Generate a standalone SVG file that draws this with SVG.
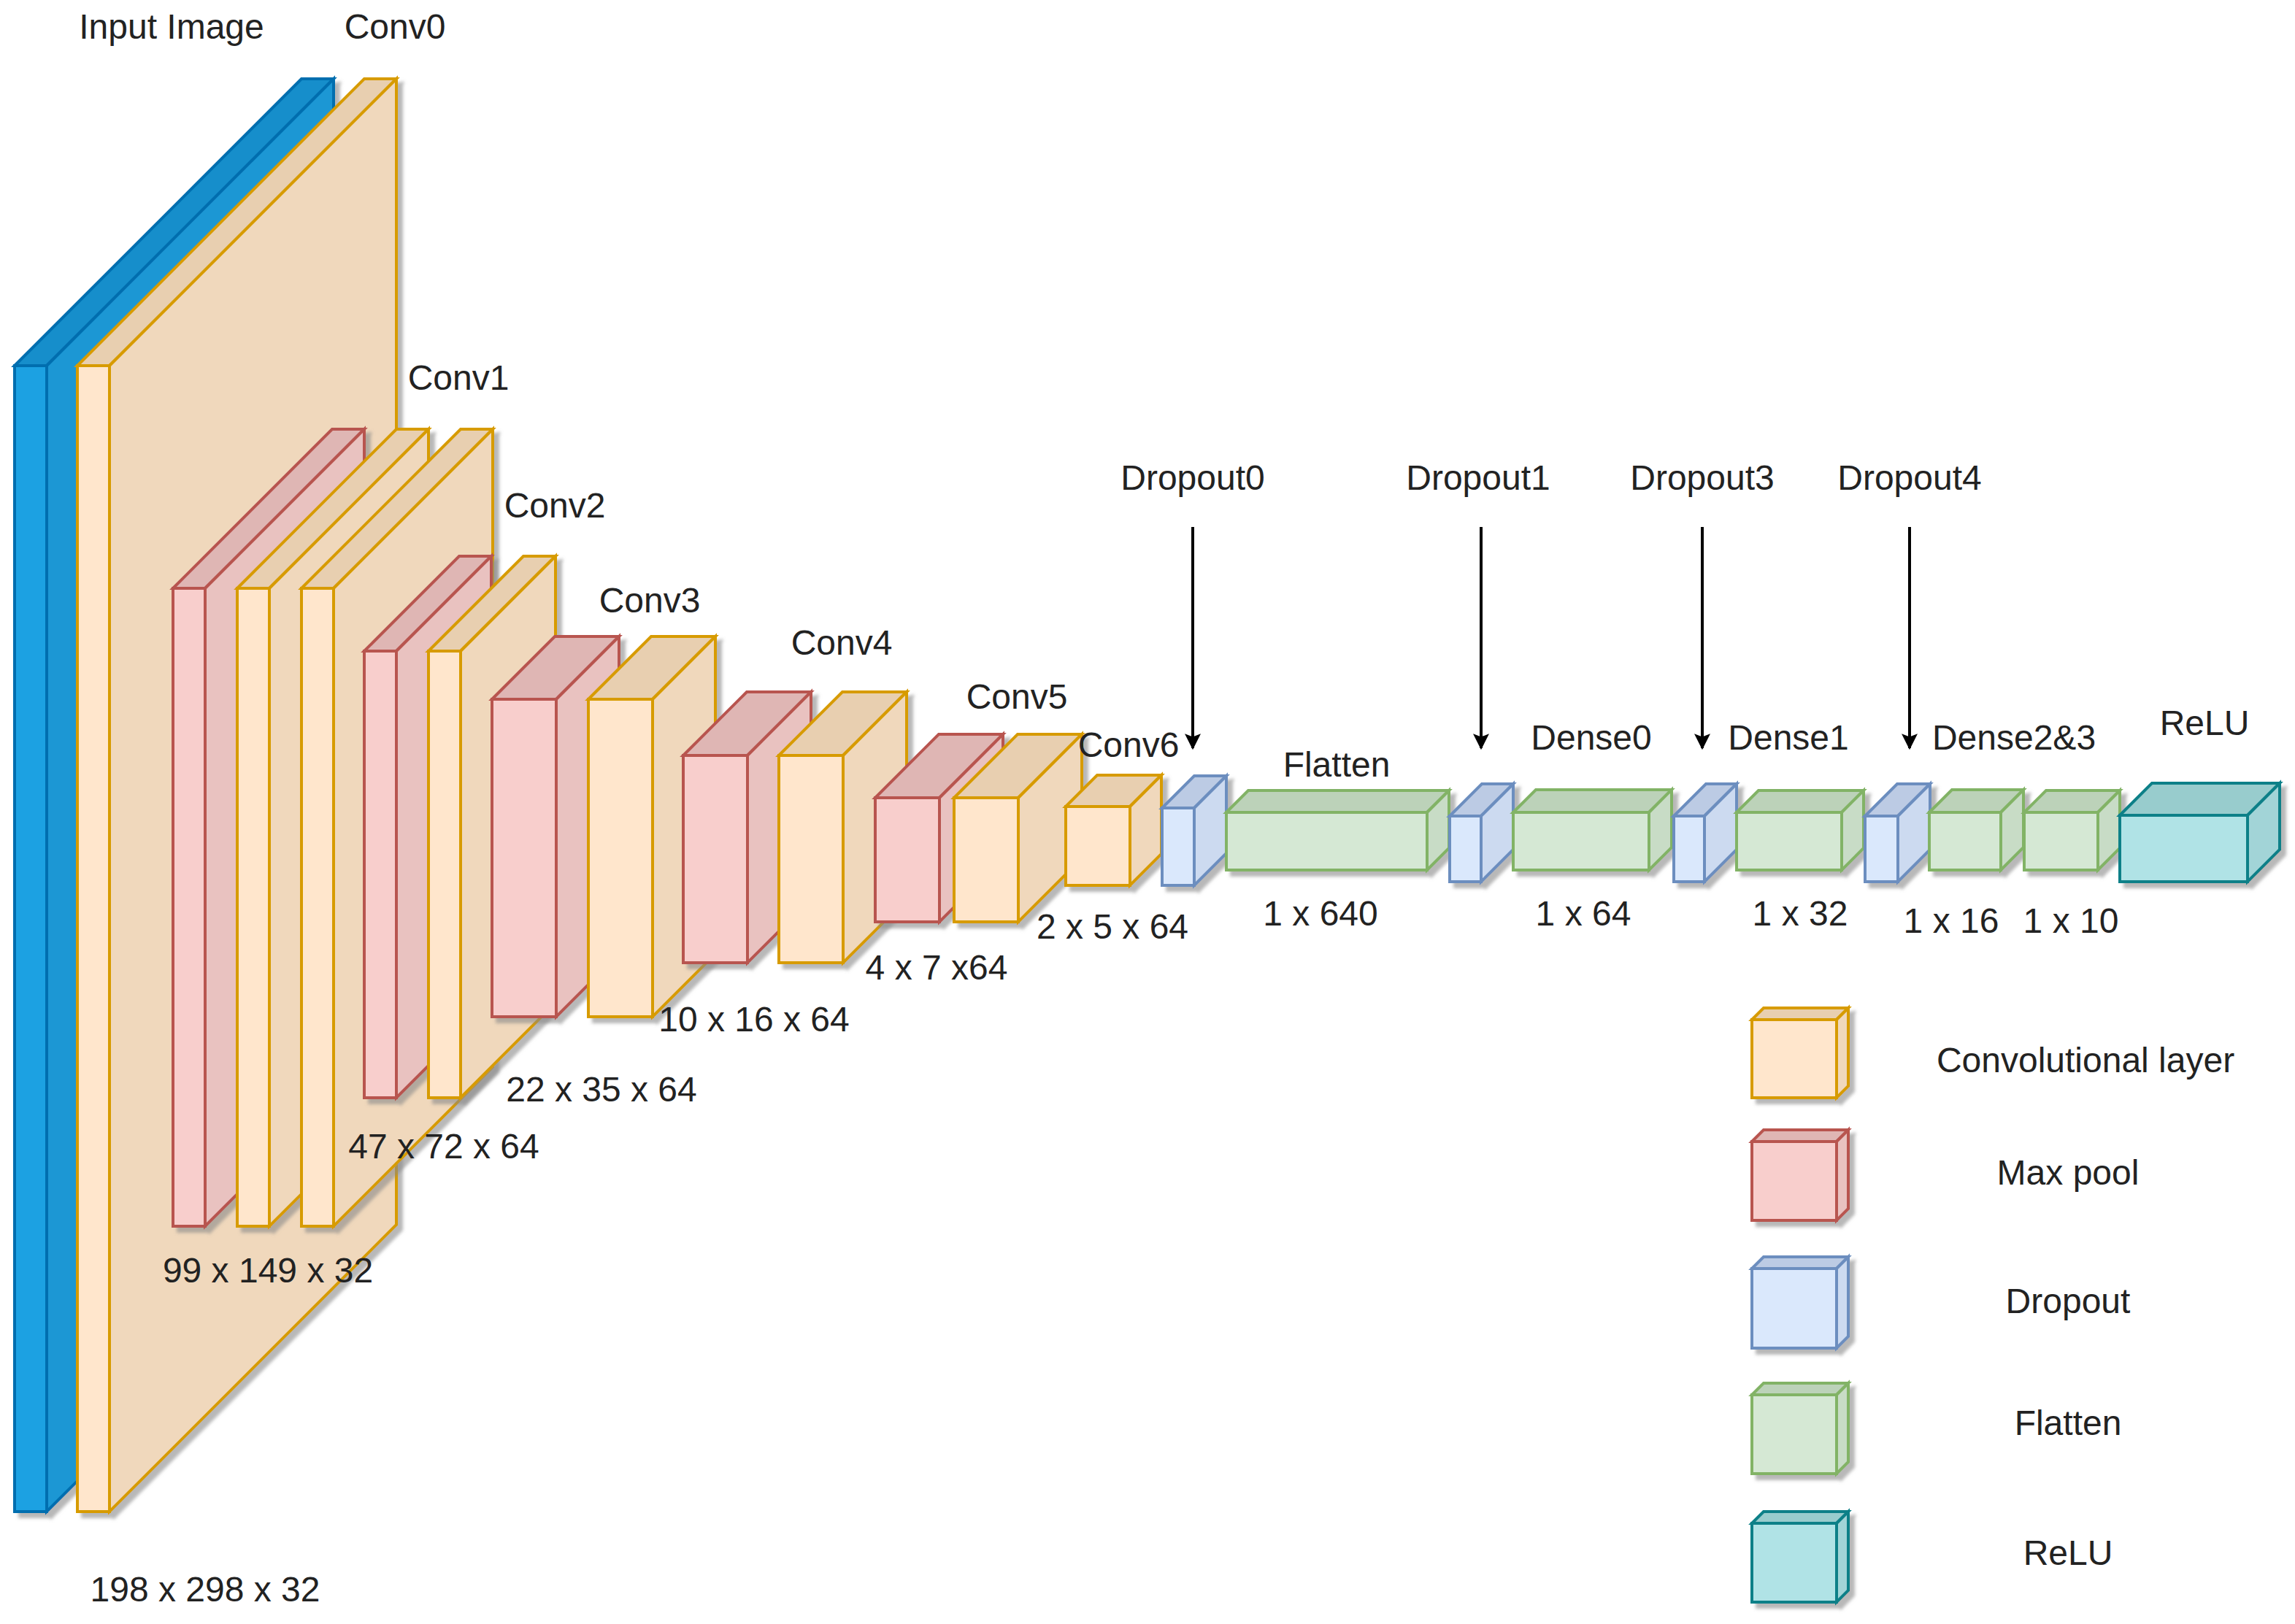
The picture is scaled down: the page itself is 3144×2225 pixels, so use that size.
<svg xmlns="http://www.w3.org/2000/svg" width="3144" height="2225" viewBox="0 0 3144 2225">
<defs>
<filter id="sh" x="-10%" y="-10%" width="130%" height="130%"><feDropShadow dx="7" dy="7" stdDeviation="2" flood-color="#888" flood-opacity="0.6"/></filter>
<marker id="ah" viewBox="0 0 10 10" refX="9" refY="5" markerWidth="28" markerHeight="22" orient="auto" markerUnits="userSpaceOnUse"><path d="M0,0 L10,5 L0,10 L2,5 z" fill="#000"/></marker>
</defs>
<style>
text{font-family:"Liberation Sans",Arial,sans-serif;font-size:48px;fill:#222;text-anchor:middle}
g.cube{filter:url(#sh)}
.conv .f{fill:#ffe6cc;stroke:#d79b00}.conv .s{fill:#f0d8bc;stroke:#d79b00}.conv .t{fill:#e8cfb0;stroke:#d79b00}
.pool .f{fill:#f8cecc;stroke:#b85450}.pool .s{fill:#e9c2c0;stroke:#b85450}.pool .t{fill:#dfb6b4;stroke:#b85450}
.drop .f{fill:#dae8fc;stroke:#6c8ebf}.drop .s{fill:#ccdaf0;stroke:#6c8ebf}.drop .t{fill:#bccbe4;stroke:#6c8ebf}
.flat .f{fill:#d5e8d4;stroke:#82b366}.flat .s{fill:#c8dcc6;stroke:#82b366}.flat .t{fill:#bcd2b9;stroke:#82b366}
.relu .f{fill:#b0e3e6;stroke:#0e8088}.relu .s{fill:#a2d4d7;stroke:#0e8088}.relu .t{fill:#98cccd;stroke:#0e8088}
.inp .f{fill:#1ba1e2;stroke:#006eaf}.inp .s{fill:#1b97d4;stroke:#006eaf}.inp .t{fill:#168ecb;stroke:#006eaf}
.f,.s,.t{stroke-width:4}
</style>
<g id="input" class="cube inp"><polygon class="t" points="20,501 413,108 457,108 64,501"/><polygon class="s" points="64,501 457,108 457,1678 64,2071"/><rect class="f" x="20" y="501" width="44" height="1570"/></g>
<g id="conv0" class="cube conv"><polygon class="t" points="106,501 499,108 543,108 150,501"/><polygon class="s" points="150,501 543,108 543,1678 150,2071"/><rect class="f" x="106" y="501" width="44" height="1570"/></g>
<g id="conv1-pool" class="cube pool"><polygon class="t" points="237,806 455,588 499,588 281,806"/><polygon class="s" points="281,806 499,588 499,1462 281,1680"/><rect class="f" x="237" y="806" width="44" height="874"/></g>
<g id="conv1-a" class="cube conv"><polygon class="t" points="325,806 543,588 587,588 369,806"/><polygon class="s" points="369,806 587,588 587,1462 369,1680"/><rect class="f" x="325" y="806" width="44" height="874"/></g>
<g id="conv1-b" class="cube conv"><polygon class="t" points="413,806 631,588 675,588 457,806"/><polygon class="s" points="457,806 675,588 675,1462 457,1680"/><rect class="f" x="413" y="806" width="44" height="874"/></g>
<g id="conv2-pool" class="cube pool"><polygon class="t" points="499,892 629,762 673,762 543,892"/><polygon class="s" points="543,892 673,762 673,1374 543,1504"/><rect class="f" x="499" y="892" width="44" height="612"/></g>
<g id="conv2" class="cube conv"><polygon class="t" points="587,892 717,762 761,762 631,892"/><polygon class="s" points="631,892 761,762 761,1374 631,1504"/><rect class="f" x="587" y="892" width="44" height="612"/></g>
<g id="conv3-pool" class="cube pool"><polygon class="t" points="674,958 760,872 848,872 762,958"/><polygon class="s" points="762,958 848,872 848,1307 762,1393"/><rect class="f" x="674" y="958" width="88" height="435"/></g>
<g id="conv3" class="cube conv"><polygon class="t" points="806,958 892,872 980,872 894,958"/><polygon class="s" points="894,958 980,872 980,1307 894,1393"/><rect class="f" x="806" y="958" width="88" height="435"/></g>
<g id="conv4-pool" class="cube pool"><polygon class="t" points="936,1035 1023,948 1111,948 1024,1035"/><polygon class="s" points="1024,1035 1111,948 1111,1232 1024,1319"/><rect class="f" x="936" y="1035" width="88" height="284"/></g>
<g id="conv4" class="cube conv"><polygon class="t" points="1067,1035 1154,948 1242,948 1155,1035"/><polygon class="s" points="1155,1035 1242,948 1242,1232 1155,1319"/><rect class="f" x="1067" y="1035" width="88" height="284"/></g>
<g id="conv5-pool" class="cube pool"><polygon class="t" points="1199,1093 1286,1006 1374,1006 1287,1093"/><polygon class="s" points="1287,1093 1374,1006 1374,1176 1287,1263"/><rect class="f" x="1199" y="1093" width="88" height="170"/></g>
<g id="conv5" class="cube conv"><polygon class="t" points="1307,1093 1394,1006 1482,1006 1395,1093"/><polygon class="s" points="1395,1093 1482,1006 1482,1176 1395,1263"/><rect class="f" x="1307" y="1093" width="88" height="170"/></g>
<g id="conv6" class="cube conv"><polygon class="t" points="1460,1105 1503,1062 1591,1062 1548,1105"/><polygon class="s" points="1548,1105 1591,1062 1591,1170 1548,1213"/><rect class="f" x="1460" y="1105" width="88" height="108"/></g>
<g id="dropout0" class="cube drop"><polygon class="t" points="1592,1107 1636,1063 1680,1063 1636,1107"/><polygon class="s" points="1636,1107 1680,1063 1680,1169 1636,1213"/><rect class="f" x="1592" y="1107" width="44" height="106"/></g>
<g id="flatten" class="cube flat"><polygon class="t" points="1680,1113 1710,1083 1985,1083 1955,1113"/><polygon class="s" points="1955,1113 1985,1083 1985,1162 1955,1192"/><rect class="f" x="1680" y="1113" width="275" height="79"/></g>
<g id="dropout1" class="cube drop"><polygon class="t" points="1986,1118 2030,1074 2073,1074 2029,1118"/><polygon class="s" points="2029,1118 2073,1074 2073,1164 2029,1208"/><rect class="f" x="1986" y="1118" width="43" height="90"/></g>
<g id="dense0" class="cube flat"><polygon class="t" points="2073,1113 2104,1082 2290,1082 2259,1113"/><polygon class="s" points="2259,1113 2290,1082 2290,1161 2259,1192"/><rect class="f" x="2073" y="1113" width="186" height="79"/></g>
<g id="dropout3" class="cube drop"><polygon class="t" points="2293,1118 2337,1074 2379,1074 2335,1118"/><polygon class="s" points="2335,1118 2379,1074 2379,1164 2335,1208"/><rect class="f" x="2293" y="1118" width="42" height="90"/></g>
<g id="dense1" class="cube flat"><polygon class="t" points="2379,1113 2409,1083 2553,1083 2523,1113"/><polygon class="s" points="2523,1113 2553,1083 2553,1162 2523,1192"/><rect class="f" x="2379" y="1113" width="144" height="79"/></g>
<g id="dropout4" class="cube drop"><polygon class="t" points="2555,1118 2599,1074 2644,1074 2600,1118"/><polygon class="s" points="2600,1118 2644,1074 2644,1164 2600,1208"/><rect class="f" x="2555" y="1118" width="45" height="90"/></g>
<g id="dense2" class="cube flat"><polygon class="t" points="2643,1113 2674,1082 2772,1082 2741,1113"/><polygon class="s" points="2741,1113 2772,1082 2772,1161 2741,1192"/><rect class="f" x="2643" y="1113" width="98" height="79"/></g>
<g id="dense3" class="cube flat"><polygon class="t" points="2773,1113 2803,1083 2904,1083 2874,1113"/><polygon class="s" points="2874,1113 2904,1083 2904,1162 2874,1192"/><rect class="f" x="2773" y="1113" width="101" height="79"/></g>
<g id="relu" class="cube relu"><polygon class="t" points="2904,1117 2948,1073 3123,1073 3079,1117"/><polygon class="s" points="3079,1117 3123,1073 3123,1164 3079,1208"/><rect class="f" x="2904" y="1117" width="175" height="91"/></g>
<g id="connectors" stroke="#000" stroke-width="4" marker-end="url(#ah)">
<line x1="1634" y1="722" x2="1634" y2="1025"/>
<line x1="2029" y1="722" x2="2029" y2="1025"/>
<line x1="2332" y1="722" x2="2332" y2="1025"/>
<line x1="2616" y1="722" x2="2616" y2="1025"/>
</g>
<g id="labels">
<text x="235" y="53">Input Image</text><text x="541" y="53">Conv0</text>
<text x="628" y="534">Conv1</text><text x="760" y="709">Conv2</text><text x="890" y="839">Conv3</text>
<text x="1153" y="897">Conv4</text><text x="1393" y="971">Conv5</text><text x="1546" y="1037">Conv6</text>
<text x="1634" y="671">Dropout0</text><text x="2025" y="671">Dropout1</text><text x="2332" y="671">Dropout3</text><text x="2616" y="671">Dropout4</text>
<text x="1831" y="1064">Flatten</text><text x="2180" y="1027">Dense0</text><text x="2450" y="1027">Dense1</text><text x="2759" y="1027">Dense2&amp;3</text><text x="3020" y="1007">ReLU</text>
<text x="281" y="2194">198 x 298 x 32</text><text x="367" y="1757">99 x 149 x 32</text><text x="608" y="1587">47 x 72 x 64</text>
<text x="824" y="1509">22 x 35 x 64</text><text x="1033" y="1413">10 x 16 x 64</text><text x="1283" y="1342">4 x 7 x64</text>
<text x="1524" y="1286">2 x 5 x 64</text><text x="1809" y="1268">1 x 640</text><text x="2169" y="1268">1 x 64</text>
<text x="2466" y="1268">1 x 32</text><text x="2673" y="1278">1 x 16</text><text x="2837" y="1278">1 x 10</text>
</g>
<g id="legend-conv" class="cube conv"><polygon class="t" points="2400,1397 2416,1381 2532,1381 2516,1397"/><polygon class="s" points="2516,1397 2532,1381 2532,1488 2516,1504"/><rect class="f" x="2400" y="1397" width="116" height="107"/></g>
<g id="legend-pool" class="cube pool"><polygon class="t" points="2400,1564 2416,1548 2532,1548 2516,1564"/><polygon class="s" points="2516,1564 2532,1548 2532,1656 2516,1672"/><rect class="f" x="2400" y="1564" width="116" height="108"/></g>
<g id="legend-drop" class="cube drop"><polygon class="t" points="2400,1738 2416,1722 2532,1722 2516,1738"/><polygon class="s" points="2516,1738 2532,1722 2532,1831 2516,1847"/><rect class="f" x="2400" y="1738" width="116" height="109"/></g>
<g id="legend-flat" class="cube flat"><polygon class="t" points="2400,1911 2416,1895 2532,1895 2516,1911"/><polygon class="s" points="2516,1911 2532,1895 2532,2003 2516,2019"/><rect class="f" x="2400" y="1911" width="116" height="108"/></g>
<g id="legend-relu" class="cube relu"><polygon class="t" points="2400,2087 2416,2071 2532,2071 2516,2087"/><polygon class="s" points="2516,2087 2532,2071 2532,2179 2516,2195"/><rect class="f" x="2400" y="2087" width="116" height="108"/></g>
<g id="legend-labels">
<text x="2857" y="1469">Convolutional layer</text><text x="2833" y="1623">Max pool</text><text x="2833" y="1799">Dropout</text>
<text x="2833" y="1966">Flatten</text><text x="2833" y="2144">ReLU</text>
</g>
</svg>
